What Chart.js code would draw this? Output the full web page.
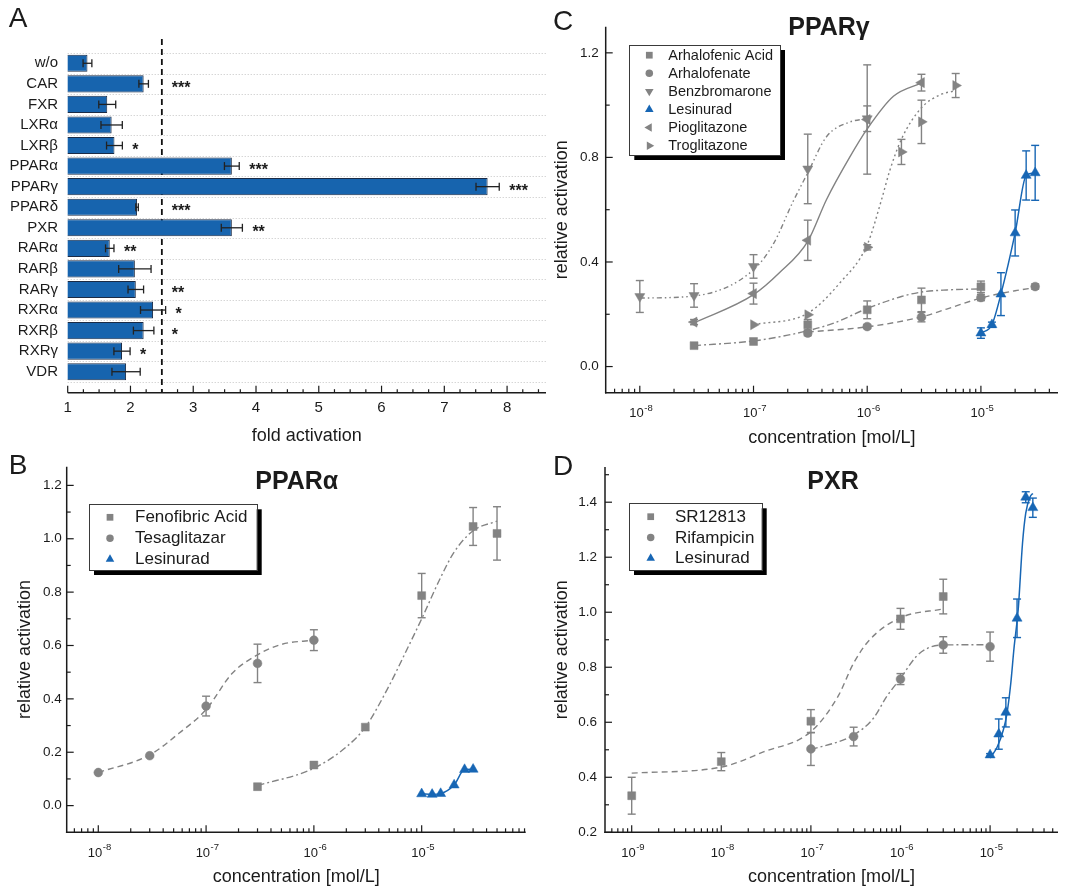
<!DOCTYPE html>
<html><head><meta charset="utf-8">
<script src="https://cdn.jsdelivr.net/npm/chart.js@4.4.1/dist/chart.umd.min.js"></script>
<style>
html,body{margin:0;padding:0;background:#fff;}
#wrap{position:relative;width:1067px;height:888px;overflow:hidden;background:#fff;}
canvas{position:absolute;left:0;top:0;}
</style></head><body>
<div id="wrap">
<canvas id="cA" width="1067" height="888"></canvas>
<canvas id="cB" width="1067" height="888"></canvas>
<canvas id="cC" width="1067" height="888"></canvas>
<canvas id="cD" width="1067" height="888"></canvas>
</div>
<script>
// ================= DATA =================
// Panel A
const aCategories = ['w/o','CAR','FXR','LXRα','LXRβ','PPARα','PPARγ','PPARδ','PXR','RARα','RARβ','RARγ','RXRα','RXRβ','RXRγ','VDR'];
const aFold    = [1.315, 2.21, 1.63, 1.70, 1.745, 3.615, 7.69, 2.105, 3.615, 1.67, 2.07, 2.085, 2.36, 2.21, 1.865, 1.93];
const aFoldErr = [0.07, 0.076, 0.135, 0.17, 0.126, 0.118, 0.185, 0.02, 0.168, 0.067, 0.258, 0.124, 0.20, 0.163, 0.129, 0.225];
const aSignif  = ['', '***', '', '', '*', '***', '***', '***', '**', '**', '', '**', '*', '*', '*', ''];
const aThreshold = 2.5;
const aXTicks = [1, 2, 3, 4, 5, 6, 7, 8];

// Panel B (PPARα)
const bFenoX = [3e-7, 1e-6, 3e-6, 1e-5, 3e-5, 5e-5];
const bFenoY = [0.071, 0.152, 0.294, 0.787, 1.046, 1.02];
const bFenoErr = [0, 0, 0, 0.083, 0.071, 0.10];
const bTesaX = [1e-8, 3e-8, 1e-7, 3e-7, 1e-6];
const bTesaY = [0.124, 0.187, 0.373, 0.533, 0.62];
const bTesaErr = [0, 0, 0.037, 0.072, 0.039];
const bLesiX = [1e-5, 1.25e-5, 1.5e-5, 2e-5, 2.5e-5, 3e-5];
const bLesiY = [0.044, 0.042, 0.045, 0.077, 0.135, 0.136];
const bLesiErr = [0, 0, 0, 0, 0, 0];
const bTesaFitX = [1e-8, 3e-8, 5.6e-8, 1e-7, 1.75e-7, 3e-7, 5e-7, 1e-6];
const bTesaFitY = [0.124, 0.19, 0.271, 0.36, 0.496, 0.565, 0.604, 0.62];
const bFenoFitX = [3e-7, 1e-6, 2e-6, 3e-6, 5e-6, 7e-6, 1e-5, 1.5e-5, 2e-5, 3e-5, 5e-5];
const bFenoFitY = [0.075, 0.14, 0.22, 0.294, 0.45, 0.57, 0.70, 0.855, 0.95, 1.03, 1.066];
const bYTicks = [0, 0.2, 0.4, 0.6, 0.8, 1.0, 1.2];
const bDecades = [-8, -7, -6, -5];

// Panel C (PPARγ)
const cAcidX = [3e-8, 1e-7, 3e-7, 1e-6, 3e-6, 1e-5];
const cAcidY = [0.08, 0.096, 0.16, 0.217, 0.255, 0.305];
const cAcidErr = [0, 0, 0.02, 0.034, 0.045, 0.022];
const cArhX = [3e-7, 1e-6, 3e-6, 1e-5, 3e-5];
const cArhY = [0.128, 0.153, 0.189, 0.264, 0.306];
const cArhErr = [0.01, 0.008, 0.018, 0.012, 0.01];
const cBenzX = [1e-8, 3e-8, 1e-7, 3e-7, 1e-6];
const cBenzY = [0.268, 0.272, 0.383, 0.756, 0.948];
const cBenzErr = [0.061, 0.045, 0.045, 0.133, 0.049];
const cLesiX = [1e-5, 1.25e-5, 1.5e-5, 2e-5, 2.5e-5, 3e-5];
const cLesiY = [0.128, 0.16, 0.277, 0.511, 0.731, 0.741];
const cLesiErr = [0.02, 0.01, 0.082, 0.088, 0.094, 0.105];
const cPioX = [3e-8, 1e-7, 3e-7, 1e-6, 3e-6];
const cPioY = [0.17, 0.279, 0.483, 0.945, 1.086];
const cPioErr = [0.01, 0.04, 0.077, 0.209, 0.032];
const cTrogX = [1e-7, 3e-7, 1e-6, 2e-6, 3e-6, 6e-6];
const cTrogY = [0.16, 0.198, 0.456, 0.821, 0.936, 1.075];
const cTrogErr = [0, 0, 0.01, 0.048, 0.083, 0.046];
const cAcidFitX = [3e-8, 1e-7, 2e-7, 3e-7, 5e-7, 1e-6, 2e-6, 3e-6, 5e-6, 1e-5];
const cAcidFitY = [0.08, 0.098, 0.12, 0.137, 0.165, 0.222, 0.268, 0.285, 0.293, 0.297];
const cArhFitX = [3e-7, 1e-6, 3e-6, 5e-6, 1e-5, 2e-5, 3e-5];
const cArhFitY = [0.132, 0.152, 0.19, 0.22, 0.262, 0.29, 0.302];
const cBenzFitX = [1e-8, 3e-8, 1e-7, 1.5e-7, 2.2e-7, 3e-7, 4.4e-7, 7e-7, 1e-6];
const cBenzFitY = [0.262, 0.27, 0.37, 0.47, 0.626, 0.741, 0.88, 0.935, 0.948];
const cPioFitX = [3e-8, 1e-7, 1.68e-7, 3e-7, 4.4e-7, 7e-7, 1e-6, 1.7e-6, 3e-6];
const cPioFitY = [0.167, 0.275, 0.358, 0.479, 0.64, 0.80, 0.909, 1.034, 1.085];
const cTrogFitX = [1e-7, 3e-7, 5.75e-7, 1e-6, 1.34e-6, 1.58e-6, 2e-6, 3e-6, 4.4e-6, 6e-6];
const cTrogFitY = [0.16, 0.204, 0.32, 0.466, 0.64, 0.75, 0.87, 0.99, 1.04, 1.055];
const cYTicks = [0, 0.4, 0.8, 1.2];
const cDecades = [-8, -7, -6, -5];

// Panel D (PXR)
const dSRX = [1e-9, 1e-8, 1e-7, 1e-6, 3e-6];
const dSRY = [0.333, 0.457, 0.604, 0.976, 1.057];
const dSRErr = [0.067, 0.033, 0.042, 0.038, 0.063];
const dRifX = [1e-7, 3e-7, 1e-6, 3e-6, 1e-5];
const dRifY = [0.503, 0.548, 0.757, 0.881, 0.875];
const dRifErr = [0.06, 0.034, 0.02, 0.03, 0.053];
const dLesiX = [1e-5, 1.25e-5, 1.5e-5, 2e-5, 2.5e-5, 3e-5];
const dLesiY = [0.481, 0.557, 0.636, 0.978, 1.418, 1.38];
const dLesiErr = [0.005, 0.055, 0.053, 0.07, 0.02, 0.035];
const dSRFitX = [1e-9, 1e-8, 3e-8, 1e-7, 2e-7, 3e-7, 4.5e-7, 1e-6, 3e-6];
const dSRFitY = [0.415, 0.437, 0.493, 0.566, 0.693, 0.815, 0.899, 0.98, 1.012];
const dRifFitX = [1e-7, 3e-7, 5e-7, 7e-7, 1e-6, 1.5e-6, 2e-6, 3e-6, 1e-5];
const dRifFitY = [0.50, 0.554, 0.615, 0.693, 0.76, 0.839, 0.869, 0.881, 0.882];
const dLesiFitX = [1e-5, 1.2e-5, 1.4e-5, 1.54e-5, 1.7e-5, 1.85e-5, 2.06e-5, 2.3e-5, 2.5e-5, 2.8e-5, 3e-5];
const dLesiFitY = [0.47, 0.51, 0.57, 0.63, 0.74, 0.87, 1.01, 1.25, 1.36, 1.42, 1.432];
const dYTicks = [0.2, 0.4, 0.6, 0.8, 1.0, 1.2, 1.4];
const dDecades = [-9, -8, -7, -6, -5];

// ================= STYLE =================
const FONT = "'Liberation Sans', Arial, Helvetica, sans-serif";
const GRAY = '#838383';
const BLUE = '#1766b4';
const BAR_BLUE = '#1764ae';
const INK = '#1b1b1b';

Chart.defaults.font.family = FONT;

function text(ctx, s, x, y, font, align, base) {
  ctx.font = font; ctx.fillStyle = INK;
  ctx.textAlign = align || 'center'; ctx.textBaseline = base || 'middle';
  ctx.fillText(s, x, y);
}
function line(ctx, x1, y1, x2, y2) {
  ctx.beginPath(); ctx.moveTo(x1, y1); ctx.lineTo(x2, y2); ctx.stroke();
}
function marker(ctx, shape, rot, x, y, r, color) {
  ctx.save(); ctx.fillStyle = color; ctx.beginPath();
  if (shape === 'rect') { const s = r * Math.SQRT1_2; ctx.rect(x - s, y - s, 2 * s, 2 * s); }
  else if (shape === 'circle') { ctx.arc(x, y, r, 0, Math.PI * 2); }
  else {
    let a = rot * Math.PI / 180;
    for (let k = 0; k < 3; k++) {
      const px = x + Math.sin(a) * r, py = y - Math.cos(a) * r;
      if (k === 0) ctx.moveTo(px, py); else ctx.lineTo(px, py);
      a += Math.PI * 2 / 3;
    }
    ctx.closePath();
  }
  ctx.fill(); ctx.restore();
}
function rotatedText(ctx, s, x, y, font) {
  ctx.save(); ctx.translate(x, y); ctx.rotate(-Math.PI / 2);
  text(ctx, s, 0, 0, font, 'center', 'middle'); ctx.restore();
}
function pow10Label(ctx, exp, cx, cy) {
  const base = '10', sup = String(exp);
  ctx.font = '13px ' + FONT; const w1 = ctx.measureText(base).width;
  ctx.font = '9.5px ' + FONT; const w2 = ctx.measureText(sup).width;
  const x0 = cx - (w1 + w2) / 2 + 1;
  ctx.fillStyle = INK; ctx.textAlign = 'left'; ctx.textBaseline = 'alphabetic';
  ctx.font = '13px ' + FONT; ctx.fillText(base, x0, cy + 4.7);
  ctx.font = '9.5px ' + FONT; ctx.fillText(sup, x0 + w1 + 0.5, cy - 1.5);
}

// ================= PANEL A =================
const panelAPlugin = {
  id: 'panelA',
  beforeDatasetsDraw(chart) {
    const { ctx, chartArea: ca, scales: { x } } = chart;
    ctx.save();
    ctx.strokeStyle = '#c4c4c4'; ctx.lineWidth = 1; ctx.setLineDash([1, 2]);
    const n = aCategories.length, step = (ca.bottom - ca.top) / n;
    for (let i = 0; i <= n; i++) {
      const yy = Math.round(ca.top + i * step) + 0.5;
      line(ctx, ca.left, yy, ca.right, yy);
    }
    const tx = x.getPixelForValue(aThreshold);
    ctx.setLineDash([6, 4]); ctx.strokeStyle = '#111'; ctx.lineWidth = 1.8;
    line(ctx, tx, ca.top - 14, tx, ca.bottom + 10.7);
    ctx.restore();
  },
  afterDatasetsDraw(chart) {
    const { ctx, scales: { x, y } } = chart;
    ctx.save();
    ctx.strokeStyle = '#222'; ctx.lineWidth = 1.3;
    aFold.forEach((v, i) => {
      const yc = y.getPixelForValue(i);
      const x1 = x.getPixelForValue(v - aFoldErr[i]), x2 = x.getPixelForValue(v + aFoldErr[i]);
      line(ctx, x1, yc, x2, yc);
      line(ctx, x1, yc - 4, x1, yc + 4);
      line(ctx, x2, yc - 4, x2, yc + 4);
      if (aSignif[i]) {
        let anchor = v + aFoldErr[i];
        if (anchor > 2.05 && anchor < aThreshold) anchor = aThreshold;
        text(ctx, aSignif[i], x.getPixelForValue(anchor) + 10, yc + 9, 'bold 16px ' + FONT, 'left', 'alphabetic');
      }
    });
    ctx.restore();
  },
  afterDraw(chart) {
    const { ctx, chartArea: ca, scales: { x, y } } = chart;
    ctx.save();
    const ay = ca.bottom + 10.7;
    ctx.strokeStyle = INK; ctx.lineWidth = 1.5;
    line(ctx, ca.left, ay, ca.right, ay);
    ctx.lineWidth = 1.2;
    for (let v = 1; v <= 8.6 + 1e-9; v += 0.25) {
      const px = x.getPixelForValue(v);
      const major = Math.abs(v - Math.round(v)) < 1e-6;
      line(ctx, px, ay, px, ay - (major ? 7 : 3.5));
    }
    aXTicks.forEach(t => text(ctx, String(t), x.getPixelForValue(t), ay + 15, '15px ' + FONT));
    aCategories.forEach((c, i) => text(ctx, c, 58, y.getPixelForValue(i), '15px ' + FONT, 'right', 'middle'));
    text(ctx, 'fold activation', (ca.left + ca.right) / 2, 436, '18px ' + FONT);
    text(ctx, 'A', 18, 19, '28px ' + FONT);
    ctx.restore();
  }
};

new Chart(document.getElementById('cA'), {
  type: 'bar',
  data: {
    labels: aCategories,
    datasets: [{
      data: aFold, backgroundColor: BAR_BLUE, borderColor: '#1b2b45', borderWidth: 1,
      borderSkipped: false, barPercentage: 0.83, categoryPercentage: 1.0
    }]
  },
  options: {
    indexAxis: 'y', responsive: false, animation: false, devicePixelRatio: 1, events: [],
    layout: { padding: { left: 67.7, right: 1067 - 546, top: 53, bottom: 888 - 382 } },
    scales: {
      x: { type: 'linear', min: 1, max: 8.62, display: false },
      y: { type: 'category', display: false }
    },
    plugins: { legend: { display: false }, tooltip: { enabled: false } }
  },
  plugins: [panelAPlugin]
});

// ================= LOG PANELS =================
function buildLogPanel(id, P) {
  const datasets = [];
  P.series.forEach(s => datasets.push({
    data: s.x.map((v, i) => ({ x: v, y: s.y[i] })),
    pointStyle: s.shape, pointRotation: s.rot || 0, pointRadius: s.r,
    pointBackgroundColor: s.color, pointBorderColor: s.color, pointBorderWidth: 0.5,
    showLine: !!s.line, borderColor: s.color, borderWidth: 1.5,
    cubicInterpolationMode: 'monotone', order: 0
  }));
  P.fits.forEach(f => datasets.push({
    data: f.x.map((v, i) => ({ x: v, y: f.y[i] })),
    showLine: true, pointRadius: 0, borderColor: f.color, borderWidth: f.w || 1.4,
    borderDash: f.dash, cubicInterpolationMode: 'monotone', order: 1
  }));
  const A = P.area;
  const plugin = {
    id: 'panel' + id,
    beforeDatasetsDraw(chart) {
      const { ctx, scales: { x, y } } = chart;
      ctx.save(); ctx.lineWidth = 1.4;
      P.series.forEach(s => {
        ctx.strokeStyle = s.color;
        s.x.forEach((v, i) => {
          const e = s.err[i]; if (!e) return;
          const px = x.getPixelForValue(v);
          const y1 = y.getPixelForValue(s.y[i] + e), y2 = y.getPixelForValue(s.y[i] - e);
          line(ctx, px, y1, px, y2);
          line(ctx, px - 4, y1, px + 4, y1);
          line(ctx, px - 4, y2, px + 4, y2);
        });
      });
      ctx.restore();
    },
    afterDraw(chart) {
      const { ctx, chartArea: ca, scales: { x, y } } = chart;
      ctx.save();
      ctx.strokeStyle = INK; ctx.lineWidth = 1.5;
      line(ctx, ca.left, ca.top, ca.left, ca.bottom + 0.75);
      line(ctx, ca.left - 0.75, ca.bottom, ca.right, ca.bottom);
      ctx.lineWidth = 1.2;
      // y ticks
      const yMin = P.yRange[0], yMax = P.yRange[1];
      for (let k = Math.ceil(yMin / P.yMinor - 1e-6); k * P.yMinor <= yMax + 1e-9; k++) {
        const v = +(k * P.yMinor).toFixed(4);
        const major = P.yTicks.some(t => Math.abs(t - v) < 1e-6);
        const py = y.getPixelForValue(v);
        if (Math.abs(py - ca.bottom) < 1 && !major) continue;
        line(ctx, ca.left, py, ca.left + (major ? 7 : 4), py);
      }
      P.yTicks.forEach(t => text(ctx, t.toFixed(1), ca.left - P.labelGap, y.getPixelForValue(t), '13.5px ' + FONT, 'right', 'middle'));
      // x ticks (log)
      const e0 = Math.floor(P.xExp[0]), e1 = Math.ceil(P.xExp[1]);
      for (let d = e0; d <= e1; d++) {
        for (let m = 1; m <= 9; m++) {
          const v = m * Math.pow(10, d);
          const lv = Math.log10(v);
          if (lv < P.xExp[0] || lv > P.xExp[1]) continue;
          const px = x.getPixelForValue(v);
          line(ctx, px, ca.bottom, px, ca.bottom - (m === 1 ? 7 : 4));
        }
      }
      P.decades.forEach(d => pow10Label(ctx, d, x.getPixelForValue(Math.pow(10, d)), ca.bottom + 19.5));
      // titles
      text(ctx, P.title, P.titlePos[0], P.titlePos[1], 'bold 25px ' + FONT);
      text(ctx, 'concentration [mol/L]', (ca.left + ca.right) / 2, ca.bottom + 45, '18px ' + FONT);
      rotatedText(ctx, 'relative activation', P.yTitleX, (ca.top + ca.bottom) / 2, '18px ' + FONT);
      text(ctx, P.letter, P.letterPos[0], P.letterPos[1], '28px ' + FONT);
      // legend
      const L = P.legend, b = L.box;
      ctx.fillStyle = '#000'; ctx.fillRect(b[0] + 5, b[1] + 5, b[2], b[3]);
      ctx.fillStyle = '#fff'; ctx.fillRect(b[0], b[1], b[2], b[3]);
      ctx.strokeStyle = '#3a3a3a'; ctx.lineWidth = 1;
      ctx.strokeRect(Math.round(b[0]) + 0.5, Math.round(b[1]) + 0.5, Math.round(b[2]), Math.round(b[3]));
      P.series.forEach((s, i) => {
        const ry = L.rows[0] + i * L.step;
        marker(ctx, s.shape, s.rot || 0, L.mx, ry, s.r * 0.85, s.color);
        text(ctx, s.label, L.tx, ry + 0.5, L.font + 'px ' + FONT, 'left', 'middle');
      });
      ctx.restore();
    }
  };
  new Chart(document.getElementById(id), {
    type: 'scatter',
    data: { datasets },
    options: {
      responsive: false, animation: false, devicePixelRatio: 1, events: [],
      layout: { padding: { left: A.l, right: 1067 - A.r, top: A.t, bottom: 888 - A.b } },
      scales: {
        x: { type: 'logarithmic', min: Math.pow(10, P.xExp[0]), max: Math.pow(10, P.xExp[1]), display: false },
        y: { type: 'linear', min: P.yRange[0], max: P.yRange[1], display: false }
      },
      plugins: { legend: { display: false }, tooltip: { enabled: false } }
    },
    plugins: [plugin]
  });
}

buildLogPanel('cB', {
  area: { l: 66.7, r: 525.7, t: 466.7, b: 832.3 },
  xExp: [-8.293, -4.035], yRange: [-0.1, 1.27], yTicks: bYTicks, yMinor: 0.1, decades: bDecades,
  labelGap: 5, title: 'PPARα', titlePos: [296.7, 482], yTitleX: 25, letter: 'B', letterPos: [18, 466],
  legend: { box: [89, 504.3, 167.7, 65.7], rows: [517.3], step: 21, mx: 110, tx: 135, font: 17 },
  series: [
    { label: 'Fenofibric Acid', x: bFenoX, y: bFenoY, err: bFenoErr, shape: 'rect', r: 5.6, color: GRAY },
    { label: 'Tesaglitazar', x: bTesaX, y: bTesaY, err: bTesaErr, shape: 'circle', r: 4.4, color: GRAY },
    { label: 'Lesinurad', x: bLesiX, y: bLesiY, err: bLesiErr, shape: 'triangle', r: 5.8, color: BLUE, line: true }
  ],
  fits: [
    { x: bFenoFitX, y: bFenoFitY, color: GRAY, dash: [7, 3, 2, 3] },
    { x: bTesaFitX, y: bTesaFitY, color: GRAY, dash: [6, 4] }
  ]
});

buildLogPanel('cC', {
  area: { l: 605.7, r: 1058, t: 26.7, b: 392.7 },
  xExp: [-8.30, -4.322], yRange: [-0.1, 1.3], yTicks: cYTicks, yMinor: 0.2, decades: cDecades,
  labelGap: 7, title: 'PPARγ', titlePos: [829, 28], yTitleX: 562, letter: 'C', letterPos: [563, 22],
  legend: { box: [629.3, 45, 150.7, 110], rows: [55.2], step: 18.1, mx: 649.3, tx: 668.3, font: 14.5 },
  series: [
    { label: 'Arhalofenic Acid', x: cAcidX, y: cAcidY, err: cAcidErr, shape: 'rect', r: 5.6, color: GRAY },
    { label: 'Arhalofenate', x: cArhX, y: cArhY, err: cArhErr, shape: 'circle', r: 4.4, color: GRAY },
    { label: 'Benzbromarone', x: cBenzX, y: cBenzY, err: cBenzErr, shape: 'triangle', rot: 180, r: 5.8, color: GRAY },
    { label: 'Lesinurad', x: cLesiX, y: cLesiY, err: cLesiErr, shape: 'triangle', r: 5.8, color: BLUE, line: true },
    { label: 'Pioglitazone', x: cPioX, y: cPioY, err: cPioErr, shape: 'triangle', rot: 270, r: 5.8, color: GRAY },
    { label: 'Troglitazone', x: cTrogX, y: cTrogY, err: cTrogErr, shape: 'triangle', rot: 90, r: 5.8, color: GRAY }
  ],
  fits: [
    { x: cAcidFitX, y: cAcidFitY, color: GRAY, dash: [7, 3, 2, 3] },
    { x: cArhFitX, y: cArhFitY, color: GRAY, dash: [6, 4] },
    { x: cBenzFitX, y: cBenzFitY, color: GRAY, dash: [5, 3, 1.5, 3, 1.5, 3] },
    { x: cPioFitX, y: cPioFitY, color: GRAY, dash: [] },
    { x: cTrogFitX, y: cTrogFitY, color: GRAY, dash: [2, 3] }
  ]
});

buildLogPanel('cD', {
  area: { l: 605, r: 1058, t: 467, b: 832.3 },
  xExp: [-9.298, -4.242], yRange: [0.2, 1.528], yTicks: dYTicks, yMinor: 0.1, decades: dDecades,
  labelGap: 8, title: 'PXR', titlePos: [833, 482], yTitleX: 562, letter: 'D', letterPos: [563, 467],
  legend: { box: [629, 503.3, 132.7, 66.7], rows: [516.7], step: 20.8, mx: 650.7, tx: 675, font: 17 },
  series: [
    { label: 'SR12813', x: dSRX, y: dSRY, err: dSRErr, shape: 'rect', r: 5.6, color: GRAY },
    { label: 'Rifampicin', x: dRifX, y: dRifY, err: dRifErr, shape: 'circle', r: 4.4, color: GRAY },
    { label: 'Lesinurad', x: dLesiX, y: dLesiY, err: dLesiErr, shape: 'triangle', r: 5.8, color: BLUE }
  ],
  fits: [
    { x: dSRFitX, y: dSRFitY, color: GRAY, dash: [6, 4] },
    { x: dRifFitX, y: dRifFitY, color: GRAY, dash: [7, 3, 2, 3] },
    { x: dLesiFitX, y: dLesiFitY, color: BLUE, dash: [], w: 1.5 }
  ]
});
</script>
</body></html>
